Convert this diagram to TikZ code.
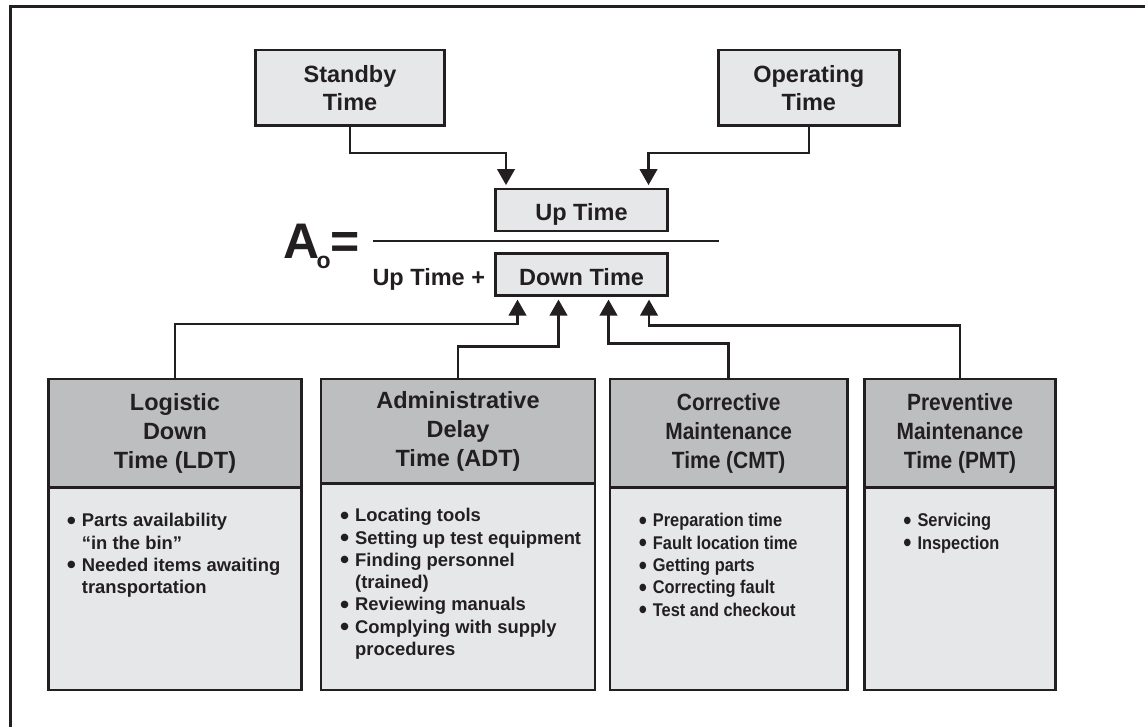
\documentclass[tikz,border=0pt]{standalone}
\usepackage{fontspec}
\setmainfont{Liberation Sans}
\newfontfamily\narrowsans{Liberation Sans}[FakeStretch=0.89]
\usetikzlibrary{arrows.meta}
\definecolor{ink}{HTML}{231F20}
\definecolor{boxfill}{HTML}{E6E7E8}
\definecolor{headfill}{HTML}{BCBEC0}
% bullet hung to the left of the item text
\newcommand\bul{\llap{\raisebox{-2.6pt}{\fontsize{26}{26}\selectfont •}\hspace{6pt}}}
\begin{document}
\begin{tikzpicture}[x=1pt,y=-1pt,
  box/.style={draw=ink, line width=2.6pt, fill=boxfill, inner sep=0pt, text=ink},
  headbox/.style={box, fill=headfill},
  bigtext/.style={font=\bfseries\fontsize{23.5}{28.3}\selectfont},
  headtext/.style={font=\bfseries\fontsize{23.5}{29}\selectfont},
  narrowhead/.style={font=\narrowsans\bfseries\fontsize{23.5}{29}\selectfont},
  listtext/.style={anchor=base west, inner sep=0pt, text=ink,
    font=\bfseries\fontsize{18.4}{22.3}\selectfont},
  narrowlist/.style={listtext, font=\narrowsans\bfseries\fontsize{18.4}{22.4}\selectfont},
  plain/.style={inner sep=0pt, text=ink, anchor=base west},
  arr/.style={draw=ink, line width=2.5pt,
    -{Triangle[width=17.5pt,length=16pt]}, shorten >=2.6pt},
  frame/.style={draw=ink, line width=2.7pt}]

\useasboundingbox (0,0) rectangle (1145,727);
\fill[white] (0,0) rectangle (1145,727);

% page frame (left and top edges)
\coordinate (fbl) at (10.7,727);
\coordinate (ftl) at (10.7,6.8);
\coordinate (ftr) at (1145,6.8);
\draw[frame] (fbl) -- (ftl) -- (ftr);

% sources of up time
\node[box, bigtext, align=center, minimum width=188.6pt, minimum height=75.7pt]
  (standby) at (350,87.8) {Standby\\Time};
\node[box, bigtext, align=center, minimum width=181pt, minimum height=75.7pt]
  (operating) at (808.8,87.8) {Operating\\Time};

% the availability formula
\node[box, bigtext, minimum width=171.6pt, minimum height=42pt,
  text height=22pt, text depth=0pt] (uptime) at (581.5,210) {Up Time};
\node[box, bigtext, minimum width=171.6pt, minimum height=42.4pt,
  text height=22pt, text depth=0pt] (downtime) at (581.5,274.5) {Down Time};
\coordinate (fracl) at (372.7,241);
\coordinate (fracr) at (719.3,241);
\draw[draw=ink, line width=2.5pt] (fracl) -- (fracr);
\node[plain, font=\bfseries\fontsize{50}{50}\selectfont] (aletter) at (283.3,258.3) {A};
\node[plain, font=\bfseries\fontsize{23}{23}\selectfont] (asub) at (316.5,269) {o};
\node[plain, font=\bfseries\fontsize{50}{50}\selectfont] (equals) at (330.3,258.3) {=};
\node[plain, bigtext] (upplus) at (372.3,285) {Up Time +};

% arrows into Up Time
\coordinate (u1) at ([xshift=-75.5pt]uptime.north);
\coordinate (u2) at ([xshift=67pt]uptime.north);
\draw[arr] (standby.south) -- ++(0,26) -| (u1);
\draw[arr] (operating.south) -- ++(0,26) -| (u2);

% down time categories
\node[box, minimum width=253.4pt, minimum height=311pt] (ldt) at (175,534.5) {};
\node[headbox, headtext, align=center, minimum width=253.4pt, minimum height=108.7pt,
  anchor=north] (ldth) at (ldt.north) {Logistic\\Down\\Time (LDT)};
\node[listtext] (ldtl) at (81.7,526.7) {\begin{tabular}[t]{@{}l@{}}
  \bul Parts availability\\
  “in the bin”\\
  \bul Needed items awaiting\\
  transportation\end{tabular}};

\node[box, minimum width=274pt, minimum height=311pt] (adt) at (458,534.5) {};
\node[headbox, headtext, align=center, minimum width=274pt, minimum height=104.3pt,
  anchor=north] (adth) at (adt.north) {Administrative\\Delay\\Time (ADT)};
\node[listtext] (adtl) at (355,521.7) {\begin{tabular}[t]{@{}l@{}}
  \bul Locating tools\\
  \bul Setting up test equipment\\
  \bul Finding personnel\\
  (trained)\\
  \bul Reviewing manuals\\
  \bul Complying with supply\\
  procedures\end{tabular}};

\node[box, minimum width=237.3pt, minimum height=311pt] (cmt) at (728.7,534.5) {};
\node[headbox, narrowhead, align=center, minimum width=237.3pt, minimum height=108.7pt,
  anchor=north] (cmth) at (cmt.north) {Corrective\\Maintenance\\Time (CMT)};
\node[narrowlist] (cmtl) at (652.7,526.7) {\begin{tabular}[t]{@{}l@{}}
  \bul Preparation time\\
  \bul Fault location time\\
  \bul Getting parts\\
  \bul Correcting fault\\
  \bul Test and checkout\end{tabular}};

\node[box, minimum width=191.4pt, minimum height=311pt] (pmt) at (960,534.5) {};
\node[headbox, narrowhead, align=center, minimum width=191.4pt, minimum height=108.7pt,
  anchor=north] (pmth) at (pmt.north) {Preventive\\Maintenance\\Time (PMT)};
\node[narrowlist] (pmtl) at (917.3,526.7) {\begin{tabular}[t]{@{}l@{}}
  \bul Servicing\\
  \bul Inspection\end{tabular}};

% arrows into Down Time
\coordinate (d1) at ([xshift=-64pt]downtime.south);
\coordinate (d2) at ([xshift=-23pt]downtime.south);
\coordinate (d3) at ([xshift=27pt]downtime.south);
\coordinate (d4) at ([xshift=67.5pt]downtime.south);
\draw[arr] (ldth.north) -- ++(0,-53.5) -| (d1);
\draw[arr] (adth.north) -- ++(0,-31.3) -| (d2);
\draw[arr] (cmth.north) -- ++(0,-34) -| (d3);
\draw[arr] (pmth.north) -- ++(0,-52.3) -| (d4);
\end{tikzpicture}
\end{document}
